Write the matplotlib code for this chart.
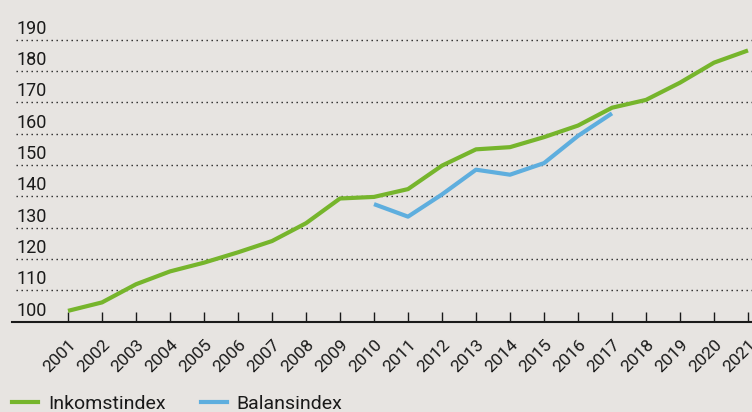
import matplotlib
matplotlib.use("Agg")
import matplotlib.pyplot as plt
from matplotlib.transforms import ScaledTranslation
from matplotlib.lines import Line2D

years = list(range(2001, 2022))
inkomst = [103.4, 106.1, 111.9, 116.0, 118.8, 122.1, 125.7, 131.4, 139.3, 139.8,
           142.3, 149.8, 155.0, 155.7, 158.9, 162.6, 168.3, 170.8, 176.3, 182.7, 186.6]
balans_years = list(range(2010, 2018))
balans = [137.5, 133.5, 140.6, 148.5, 146.9, 150.6, 159.3, 166.5]
yticks = [100, 110, 120, 130, 140, 150, 160, 170, 180, 190]
xlabels = [str(y) for y in years]

BG = "#e7e4e1"
GREEN = "#76b52c"
BLUE = "#5eaede"

plt.rcParams['font.family'] = ['Roboto', 'DejaVu Sans']

W, H = 752, 412
fig = plt.figure(figsize=(W/100, H/100), dpi=100, facecolor=BG)
ax_left = 12
ax_bottom = 321.5
ax = fig.add_axes([ax_left/W, (H-ax_bottom)/H, (W-ax_left)/W, 313/H])
ax.set_facecolor(BG)

ax.set_xlim(2001 - 56/34, 2021 + 4/34)
ax.set_ylim(100, 200)

for s in ['top', 'right', 'left']:
    ax.spines[s].set_visible(False)
ax.spines['bottom'].set_color('#1a1a1a')
ax.spines['bottom'].set_linewidth(1.5)

# gridlines
gx0 = (16 - ax_left) / (W - ax_left)
for v in yticks[1:]:
    ax.axhline(v, xmin=gx0, xmax=1, color='#222222', lw=1.0,
               linestyle=(0, (1, 2.6)), zorder=1)

# y labels inside
ytrans = ax.get_yaxis_transform() + ScaledTranslation(0, 6/100, fig.dpi_scale_trans)
for v in yticks:
    ax.text(gx0, v, str(v), transform=ytrans, ha='left', va='baseline',
            fontsize=13, color='#1a1a1a')
ax.set_yticks([])

ax.plot(years, inkomst, color=GREEN, lw=3, solid_capstyle='butt', zorder=3)
ax.plot(balans_years, balans, color=BLUE, lw=3, solid_capstyle='butt', zorder=3)

ax.set_xticks(years)
ax.set_xticklabels(xlabels, rotation=45, ha='right', va='top',
                   rotation_mode='anchor', fontsize=12.5, color='#1a1a1a')
ax.tick_params(axis='x', direction='in', length=7, width=1, color='#1a1a1a', pad=7)
off = ScaledTranslation(0/100, -6/100, fig.dpi_scale_trans)
for lab in ax.get_xticklabels():
    lab.set_transform(lab.get_transform() + off)

handles = [Line2D([], [], color=GREEN, lw=3), Line2D([], [], color=BLUE, lw=3)]
fig.legend(handles, ['Inkomstindex', 'Balansindex'], loc='center left',
           bbox_to_anchor=(12/W, (H-404)/H), ncol=2, frameon=False,
           fontsize=14, handlelength=1.34, handletextpad=0.52, columnspacing=1.8,
           borderpad=0, borderaxespad=0, labelcolor='#1a1a1a')

fig.savefig('out.png', dpi=100, facecolor=BG)
